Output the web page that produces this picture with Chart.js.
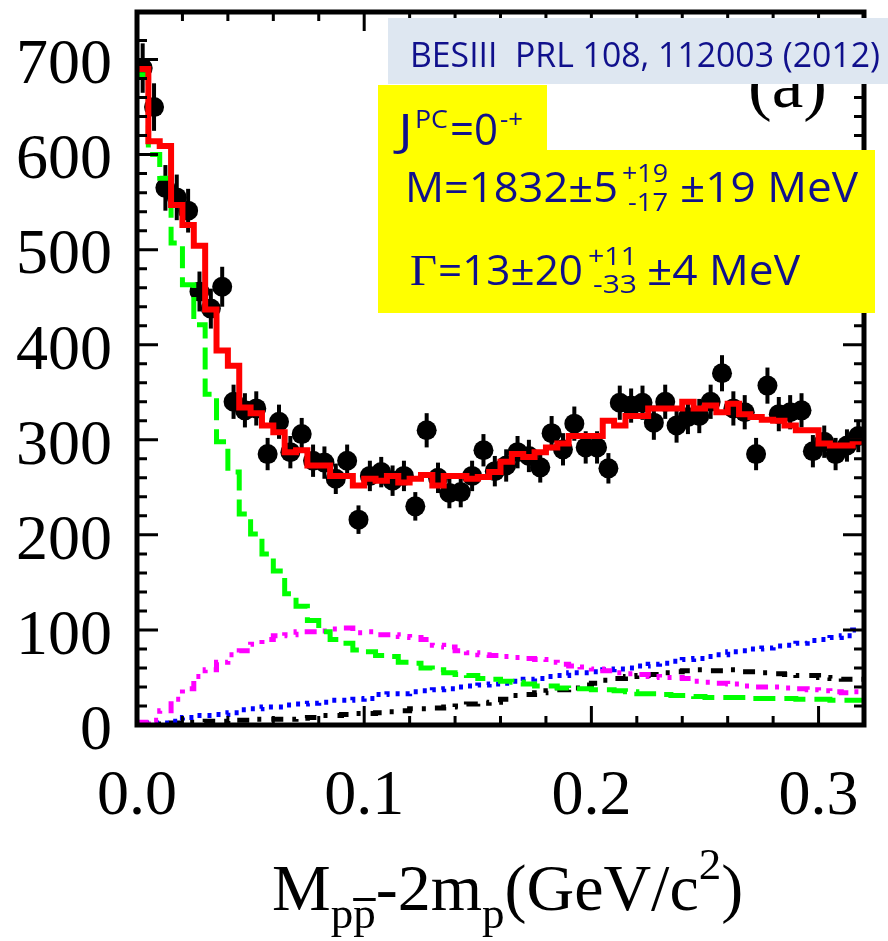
<!DOCTYPE html>
<html>
<head>
<meta charset="utf-8">
<script src="https://cdn.jsdelivr.net/npm/chart.js@4.4.1/dist/chart.umd.min.js"></script>
<style>
html,body{margin:0;padding:0;background:#fff}
#wrap{width:888px;height:941px}
</style>
</head>
<body>
<div id="wrap"><canvas id="c" width="888" height="941"></canvas></div>
<script>
// ══════════════════════════════════════════
// DATA  (64 bins of 5 MeV, 0 – 0.32 GeV/c²)
// ══════════════════════════════════════════
const BIN_W=0.005;
const dataY=[691,650,565,555,541,456,438,461,340,331,333,285,319,287,306,278,
  276,259,278,216,262,266,257,262,230,310,260,244,245,262,289,267,
  273,287,283,271,307,290,317,292,292,270,339,336,339,318,340,315,
  324,325,340,370,333,329,285,357,327,329,331,288,298,285,294,304];
const dataErr=[26,25,24,24,23,21,21,21,18,18,18,17,18,17,17,17,
  17,16,17,15,16,16,16,16,15,18,16,16,16,16,17,16,
  17,17,17,16,18,17,18,17,17,16,18,18,18,18,18,18,
  18,18,18,19,18,18,17,19,18,18,18,17,17,17,17,17];
const fitTotal=[690,614,609,547,526,504,437,394,378,334,328,315,308,287,289,273,
  273,262,262,252,259,257,262,255,259,263,252,262,262,259,261,266,
  277,285,282,287,292,296,304,304,304,320,315,325,325,333,333,333,
  340,333,336,329,338,327,324,321,320,315,310,310,296,294,294,298];
const fitGreen=[684,600,575,507,463,421,348,298,266,222,201,180,162,138,125,110,
  98,90,86,79,77,73,72,66,65,60,58,55,53,52,49,48,
  46,45,43,41,41,39,38,38,37,37,36,35,33,33,32,31,
  31,30,29,29,29,29,28,28,28,28,27,27,27,26,26,26];
const fitMagenta=[3,5,15,27,38,51,58,66,74,78,85,90,94,95,98,98,
  99,101,102,97,98,95,95,93,92,90,84,82,78,76,74,73,
  72,71,70,69,66,64,62,61,59,57,55,54,53,51,50,50,
  49,46,45,44,43,41,40,40,40,39,38,37,36,35,34,35];
const fitBlue=[0,2,2,4,8,10,10,11,13,16,17,19,19,21,22,23,
  24,26,26,27,28,32,33,33,35,36,37,38,40,41,42,43,
  44,46,48,49,51,52,55,55,56,58,59,60,62,64,65,67,
  69,70,72,74,77,78,80,81,83,84,86,89,90,92,94,100];
const fitBlack=[0,0,1,2,3,3,4,4,5,5,6,6,6,6,7,8,
  10,10,11,12,12,13,14,15,17,17,18,19,20,22,23,24,
  27,31,32,34,36,37,39,42,44,47,49,51,52,53,55,56,
  57,58,57,57,58,56,56,55,54,53,52,52,50,49,48,48];

const xMajorLabels=['0.0','0.1','0.2','0.3'];
const yMajorLabels=['0','100','200','300','400','500','600','700'];

const NAVY='#10108c';
const SERIF='"Liberation Serif","Times New Roman",serif';
const SANS='"Open Sans","Noto Sans",sans-serif';

// histogram as low-edge points + closing edge
function histPts(vals){
  const pts=vals.map((v,i)=>({x:i*BIN_W,y:v}));
  pts.push({x:vals.length*BIN_W,y:vals[vals.length-1]});
  return pts;
}
function hist(vals,color,width,dash){
  return {data:histPts(vals),borderColor:color,borderWidth:width,borderDash:dash,
    stepped:'before',pointRadius:0,fill:false,tension:0,borderCapStyle:'butt'};
}
const isMajorX=v=>Math.abs(v*10-Math.round(v*10))<1e-6;
const isMajorY=v=>Math.abs(v%100)<1e-6;

// ══════════════════════════════════════════
// PLUGINS
// ══════════════════════════════════════════
const errorBars={id:'errorBars',
  beforeDatasetsDraw(chart){
    const {ctx,chartArea:a,scales:{x,y}}=chart;
    ctx.save();
    ctx.beginPath();ctx.rect(a.left,a.top,a.right-a.left,a.bottom-a.top);ctx.clip();
    ctx.strokeStyle='#000';ctx.lineWidth=4;
    dataY.forEach((v,i)=>{
      const px=x.getPixelForValue((i+0.5)*BIN_W);
      ctx.beginPath();
      ctx.moveTo(px,y.getPixelForValue(v-dataErr[i]));
      ctx.lineTo(px,y.getPixelForValue(v+dataErr[i]));
      ctx.stroke();
    });
    ctx.restore();
  }};

const frame={id:'frame',
  afterDatasetsDraw(chart){
    const {ctx,chartArea:a,scales:{x,y}}=chart;
    ctx.save();
    ctx.strokeStyle='#000';
    ctx.lineWidth=3;
    x.ticks.forEach(t=>{
      const px=x.getPixelForValue(t.value),L=isMajorX(t.value)?19:9;
      ctx.beginPath();ctx.moveTo(px,a.bottom);ctx.lineTo(px,a.bottom-L);
      ctx.moveTo(px,a.top);ctx.lineTo(px,a.top+L);ctx.stroke();
    });
    y.ticks.forEach(t=>{
      const py=y.getPixelForValue(t.value),L=isMajorY(t.value)?21:10;
      ctx.beginPath();ctx.moveTo(a.left,py);ctx.lineTo(a.left+L,py);
      ctx.moveTo(a.right,py);ctx.lineTo(a.right-L,py);ctx.stroke();
    });
    ctx.lineWidth=5;
    ctx.strokeRect(a.left,a.top,a.right-a.left,a.bottom-a.top);
    ctx.restore();
  }};

// text fitted between x0 and x1
function fitText(ctx,str,font,x0,x1,base,color){
  ctx.font=font;ctx.fillStyle=color;
  const w=ctx.measureText(str).width,s=(x1-x0)/w;
  ctx.save();ctx.translate(x0,base);ctx.scale(s,1);
  ctx.fillText(str,0,0);ctx.restore();
}

const annot={id:'annot',
  afterDraw(chart){
    const ctx=chart.ctx;
    ctx.save();
    ctx.textBaseline='alphabetic';ctx.textAlign='left';
    // panel label, partly hidden by boxes
    fitText(ctx,'(a)','70px '+SERIF,748,827,107,'#000');
    ctx.fillStyle='#dee7f1';ctx.fillRect(388,18,500,66);
    ctx.fillStyle='#ffff00';
    ctx.fillRect(378,85,169,66);
    ctx.fillRect(378,150,497,163);
    fitText(ctx,'BESIII  PRL 108, 112003 (2012)','34px '+SANS,410,880,67,NAVY);
    // J^PC = 0^-+
    fitText(ctx,'J','44px '+SANS,398,413,145,NAVY);
    fitText(ctx,'PC','26px '+SANS,415,448,128,NAVY);
    fitText(ctx,'=0','44px '+SANS,450,498,145,NAVY);
    fitText(ctx,'-+','26px '+SANS,500,523,128,NAVY);
    // mass
    fitText(ctx,'M=1832±5','42px '+SANS,405,618,202,NAVY);
    fitText(ctx,'+19','26px '+SANS,622,668,182,NAVY);
    fitText(ctx,'-17','26px '+SANS,628,668,211,NAVY);
    fitText(ctx,'±19 MeV','42px '+SANS,680,858,202,NAVY);
    // width
    fitText(ctx,'Γ','45px '+SERIF,410,437,285,NAVY);
    fitText(ctx,'=13±20','42px '+SANS,438,583,285,NAVY);
    fitText(ctx,'+11','26px '+SANS,588,637,265,NAVY);
    fitText(ctx,'-33','26px '+SANS,593,637,293,NAVY);
    fitText(ctx,'±4 MeV','42px '+SANS,647,800,285,NAVY);
    // x axis title  M_{pp̄}-2m_p(GeV/c^2)
    ctx.fillStyle='#000';
    const big='66px '+SERIF,small='45px '+SERIF,base=910,sub=928;
    let cx=272;
    const put=(s,f,b)=>{ctx.font=f;ctx.fillText(s,cx,b);cx+=ctx.measureText(s).width;};
    put('M',big,base);
    put('p',small,sub);
    const pbx=cx;put('p',small,sub);
    ctx.fillRect(pbx,898,cx-pbx,3);
    put('-2m',big,base);
    put('p',small,sub);
    put('(GeV/c',big,base);
    put('2',small,879);
    put(')',big,base);
    ctx.restore();
  }};

// ══════════════════════════════════════════
// CHART
// ══════════════════════════════════════════
const points={data:dataY.map((v,i)=>({x:(i+0.5)*BIN_W,y:v})),showLine:false,
  pointRadius:10,pointBackgroundColor:'#000',pointBorderWidth:0,borderColor:'#000'};

new Chart(document.getElementById('c'),{
  type:'line',
  data:{datasets:[
    hist(fitTotal,'#ff0000',6,[]),
    hist(fitGreen,'#00ff00',5,[22,9]),
    hist(fitMagenta,'#ff00ff',5,[12,7,4,8,4,8]),
    hist(fitBlue,'#0000ff',5,[4,6]),
    hist(fitBlack,'#000000',5,[12,9,4,10]),
    points
  ]},
  options:{responsive:false,animation:false,
    layout:{padding:{top:12,right:24,left:0,bottom:0}},
    plugins:{legend:{display:false},tooltip:{enabled:false}},
    scales:{
      x:{type:'linear',min:0,max:0.32,
        grid:{display:false,drawTicks:false},border:{display:false},
        ticks:{stepSize:0.02,autoSkip:false,maxRotation:0,padding:34,color:'#000',
          font:{family:SERIF,size:64},
          callback:v=>isMajorX(v)?xMajorLabels[Math.round(v*10)]:''},
        afterFit:s=>{s.height=216;s.paddingLeft=0;s.paddingRight=0;}},
      y:{min:0,max:750,
        grid:{display:false,drawTicks:false},border:{display:false},
        ticks:{stepSize:20,autoSkip:false,padding:25,color:'#000',labelOffset:7,
          font:{family:SERIF,size:64},
          callback:v=>isMajorY(v)?yMajorLabels[Math.round(v/100)]:''},
        afterFit:s=>{s.width=137;s.paddingTop=0;s.paddingBottom=0;}}
    }
  },
  plugins:[errorBars,frame,annot]
});
</script>
</body>
</html>
